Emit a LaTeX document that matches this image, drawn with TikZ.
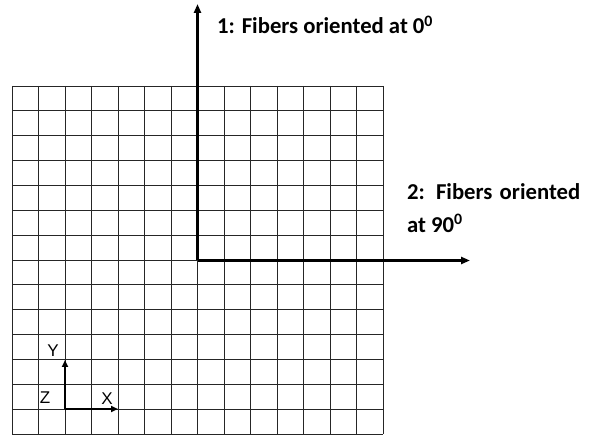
\documentclass[tikz,border=0pt]{standalone}
\usepackage{fontspec}
\setmainfont{Carlito}
\newfontfamily\axfont{Liberation Sans}
\usetikzlibrary{arrows.meta}
\tikzset{
  gridline/.style={black!85, line width=0.8pt},
  bigarrow/.style={line width=2.4pt, -{Triangle[length=9pt,width=7pt]}},
  smallarrow/.style={line width=2.2pt, -{Triangle[length=7pt,width=6pt]}},
  lbl/.style={font=\fontsize{22.7}{33}\selectfont\bfseries, inner sep=0pt},
  axlbl/.style={font=\axfont\fontsize{17}{18}\selectfont, inner sep=0pt}
}
\begin{document}
\begin{tikzpicture}[x=1pt,y=-1pt]
\useasboundingbox (0,0) rectangle (590,435);
% grid
\foreach \i in {0,...,14} {
  \draw[gridline] ({12+\i*371/14},86) -- ({12+\i*371/14},434);
  \draw[gridline] (12,{86+\i*348/14}) -- (383,{86+\i*348/14});
}
% main axes
\coordinate (O) at (197.5,260.5);
\coordinate (T1) at (197.5,4);
\coordinate (T2) at (470,260.5);
\draw[bigarrow] (O) -- (T1);
\draw[bigarrow] (O) -- (T2);
\node[lbl, anchor=west] (l1) at (217,25) {1: Fibers oriented at 0\textsuperscript{0}};
\node[lbl, anchor=north west, align=left] (l2) at (407,183) {\makebox[173pt][s]{2: Fibers oriented}\\at 90\textsuperscript{0}};
% small axes
\coordinate (o) at (65,409);
\coordinate (ty) at (65,360);
\coordinate (tx) at (118,409);
\draw[smallarrow] (o) -- (ty);
\draw[smallarrow] (o) -- (tx);
\node[axlbl] (Y) at (53,351) {Y};
\node[axlbl] (Z) at (45,398) {Z};
\node[axlbl] (X) at (107,399) {X};
\end{tikzpicture}
\end{document}
